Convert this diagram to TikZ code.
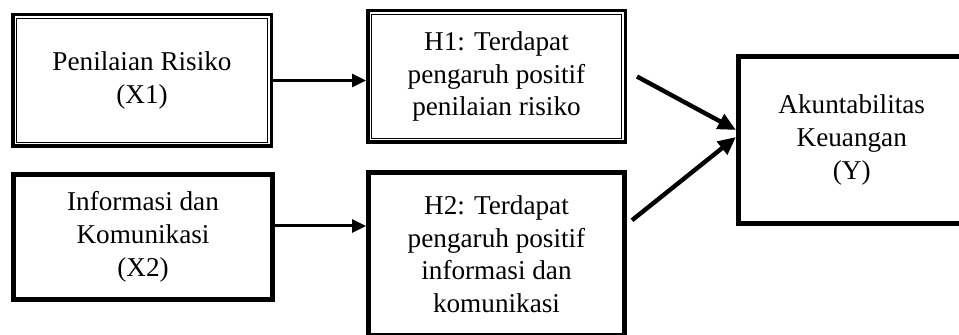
\documentclass[tikz,border=0pt]{standalone}
\usepackage{fontspec}
\setmainfont{Liberation Serif}
\usetikzlibrary{arrows.meta}

\begin{document}
\begin{tikzpicture}[x=0.5pt,y=-0.5pt,
    font=\fontsize{13.6pt}{16.4pt}\selectfont,
    dblbox/.style={draw,line width=1.75pt,align=center,inner sep=0pt,
      path picture={\draw[line width=0.6pt]
        ([shift={(1.9pt,-1.9pt)}]path picture bounding box.north west) rectangle
        ([shift={(-1.9pt,1.9pt)}]path picture bounding box.south east);}},
    thkbox/.style={draw,line width=2.5pt,align=center,inner sep=0pt},
    harrow/.style={-{Triangle[length=7pt,width=6.5pt]},line width=1.5pt},
    darrow/.style={-{Triangle[length=9pt,width=8pt]},line width=2.2pt}]

        \useasboundingbox (0,0) rectangle (959,335);

        \begin{scope}[every node/.style={dblbox}]
          \node[minimum width=129.25pt,minimum height=65.75pt] (x1) at (142,80.5)  {Penilaian Risiko\\(X1)};
          \node[minimum width=128.75pt,minimum height=65.75pt] (h1) at (496.5,76.5) {H1: Terdapat\\pengaruh positif\\penilaian risiko};
        \end{scope}

        \begin{scope}[every node/.style={thkbox}]
          \node[minimum width=129.5pt,minimum height=62.5pt]   (x2) at (143,237)     {Informasi dan\\Komunikasi\\(X2)};
          \node[minimum width=128pt,minimum height=81.75pt]    (h2) at (496.5,254.25) {H2: Terdapat\\pengaruh positif\\informasi dan\\komunikasi};
          \node[minimum width=113.25pt,minimum height=83.5pt]  (y)  at (851.75,140)  {Akuntabilitas\\Keuangan\\(Y)};
        \end{scope}

        \draw[harrow] (x1) -- (x1 -| h1.west);
        \draw[harrow] ([yshift=5.5pt]x2.east) -- ([yshift=5.5pt]x2.east -| h2.west);

        \draw[darrow] ([xshift=5pt]h1.east) -- ([yshift=5pt]y.west);
        \draw[darrow] ([shift={(2.5pt,17pt)}]h2.east) -- ([yshift=1.5pt]y.west);

      \end{tikzpicture}
\end{document}
